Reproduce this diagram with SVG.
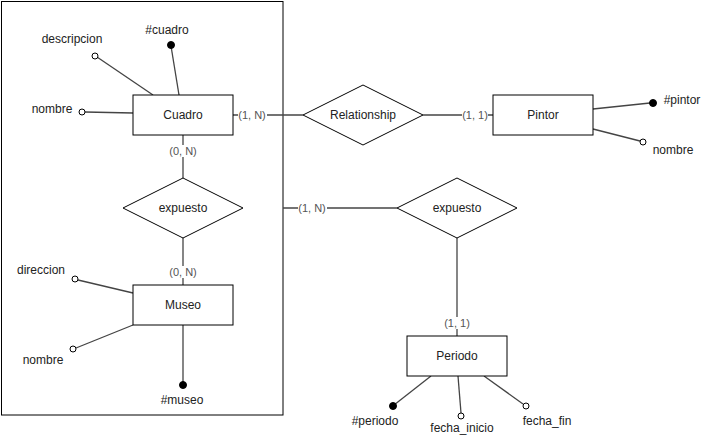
<svg xmlns="http://www.w3.org/2000/svg" width="713" height="446" viewBox="0 0 713 446">
  <style>
    .ent { fill: #ffffff; stroke: #000000; stroke-width: 1; }
    .rel { fill: #ffffff; stroke: #000000; stroke-width: 1; }
    .frame { fill: none; stroke: #000000; stroke-width: 1; }
    .edge { stroke: #444444; stroke-width: 1.3; fill: none; }
    .lbl { font-family: "Liberation Sans", Arial, sans-serif; font-size: 12px; fill: #222222; text-anchor: middle; dominant-baseline: central; }
    .card { font-family: "Liberation Sans", Arial, sans-serif; font-size: 11px; fill: #555555; text-anchor: middle; dominant-baseline: central; }
    .cardbg { fill: #ffffff; }
    .key { fill: #000000; stroke: #000000; stroke-width: 1; }
    .opt { fill: #ffffff; stroke: #000000; stroke-width: 1; }
  </style>

  <!-- aggregation frame around Cuadro / expuesto / Museo -->
  <rect id="agregacion" class="frame" x="1.5" y="1.5" width="281.5" height="413.5"/>

  <!-- connectors -->
  <g id="connectors">
    <line class="edge" x1="233" y1="115" x2="303" y2="115"/>
    <line class="edge" x1="423" y1="115" x2="493" y2="115"/>
    <line class="edge" x1="183" y1="135" x2="183" y2="178"/>
    <line class="edge" x1="183" y1="238" x2="183" y2="285"/>
    <line class="edge" x1="283" y1="208" x2="397" y2="208"/>
    <line class="edge" x1="457" y1="238" x2="457" y2="336"/>

    <!-- attribute links -->
    <line class="edge" x1="179" y1="95" x2="171" y2="46"/>
    <line class="edge" x1="153" y1="95" x2="97" y2="57"/>
    <line class="edge" x1="133" y1="113" x2="85" y2="112"/>
    <line class="edge" x1="593" y1="109" x2="650" y2="103"/>
    <line class="edge" x1="593" y1="129" x2="640" y2="141"/>
    <line class="edge" x1="133" y1="293" x2="78" y2="280"/>
    <line class="edge" x1="133" y1="325" x2="76" y2="348"/>
    <line class="edge" x1="183" y1="325" x2="183" y2="385"/>
    <line class="edge" x1="431" y1="376" x2="394" y2="405"/>
    <line class="edge" x1="458" y1="376" x2="461" y2="413"/>
    <line class="edge" x1="484" y1="376" x2="523" y2="404"/>

    <!-- cardinalities -->
    <rect class="cardbg" x="238" y="109" width="29" height="12"/>
    <text class="card" x="252" y="115">(1, N)</text>
    <rect class="cardbg" x="462" y="109" width="26" height="12"/>
    <text class="card" x="475" y="115">(1, 1)</text>
    <rect class="cardbg" x="169" y="145" width="29" height="12"/>
    <text class="card" x="183" y="151">(0, N)</text>
    <rect class="cardbg" x="169" y="266" width="29" height="12"/>
    <text class="card" x="183" y="272">(0, N)</text>
    <rect class="cardbg" x="298" y="202" width="29" height="12"/>
    <text class="card" x="312" y="208">(1, N)</text>
    <rect class="cardbg" x="444" y="317" width="26" height="12"/>
    <text class="card" x="457" y="323">(1, 1)</text>
  </g>

  <!-- entities -->
  <g id="cuadro">
    <rect class="ent" x="133" y="95" width="100" height="40"/>
    <text class="lbl" x="183" y="115">Cuadro</text>
  </g>
  <g id="museo">
    <rect class="ent" x="133" y="285" width="100" height="40"/>
    <text class="lbl" x="183" y="305">Museo</text>
  </g>
  <g id="pintor">
    <rect class="ent" x="493" y="95" width="100" height="40"/>
    <text class="lbl" x="543" y="115">Pintor</text>
  </g>
  <g id="periodo">
    <rect class="ent" x="407" y="336" width="100" height="40"/>
    <text class="lbl" x="457" y="356">Periodo</text>
  </g>

  <!-- relationships -->
  <g id="relationship">
    <polygon class="rel" points="303,115 363,85 423,115 363,145"/>
    <text class="lbl" x="363" y="115">Relationship</text>
  </g>
  <g id="expuesto-interno">
    <polygon class="rel" points="123,208 183,178 243,208 183,238"/>
    <text class="lbl" x="183" y="208">expuesto</text>
  </g>
  <g id="expuesto-periodo">
    <polygon class="rel" points="397,208 457,178 517,208 457,238"/>
    <text class="lbl" x="457" y="208">expuesto</text>
  </g>

  <!-- attributes of Cuadro -->
  <g id="attr-cuadro-id">
    <circle class="key" cx="171" cy="45" r="3.5"/>
    <text class="lbl" x="167" y="30">#cuadro</text>
  </g>
  <g id="attr-cuadro-descripcion">
    <circle class="opt" cx="95" cy="56" r="3"/>
    <text class="lbl" x="72" y="39">descripcion</text>
  </g>
  <g id="attr-cuadro-nombre">
    <circle class="opt" cx="82" cy="112" r="3"/>
    <text class="lbl" x="52" y="109">nombre</text>
  </g>

  <!-- attributes of Pintor -->
  <g id="attr-pintor-id">
    <circle class="key" cx="653" cy="103" r="3.5"/>
    <text class="lbl" x="682" y="100">#pintor</text>
  </g>
  <g id="attr-pintor-nombre">
    <circle class="opt" cx="643" cy="142" r="3"/>
    <text class="lbl" x="673" y="150">nombre</text>
  </g>

  <!-- attributes of Museo -->
  <g id="attr-museo-direccion">
    <circle class="opt" cx="75" cy="279" r="3"/>
    <text class="lbl" x="41" y="270">direccion</text>
  </g>
  <g id="attr-museo-nombre">
    <circle class="opt" cx="73" cy="349" r="3"/>
    <text class="lbl" x="43" y="360">nombre</text>
  </g>
  <g id="attr-museo-id">
    <circle class="key" cx="183" cy="385" r="3.5"/>
    <text class="lbl" x="182" y="400">#museo</text>
  </g>

  <!-- attributes of Periodo -->
  <g id="attr-periodo-id">
    <circle class="key" cx="393" cy="406" r="3.5"/>
    <text class="lbl" x="375" y="421">#periodo</text>
  </g>
  <g id="attr-periodo-inicio">
    <circle class="opt" cx="461" cy="416" r="3"/>
    <text class="lbl" x="462" y="428">fecha_inicio</text>
  </g>
  <g id="attr-periodo-fin">
    <circle class="opt" cx="526" cy="406" r="3"/>
    <text class="lbl" x="547" y="421">fecha_fin</text>
  </g>
</svg>
